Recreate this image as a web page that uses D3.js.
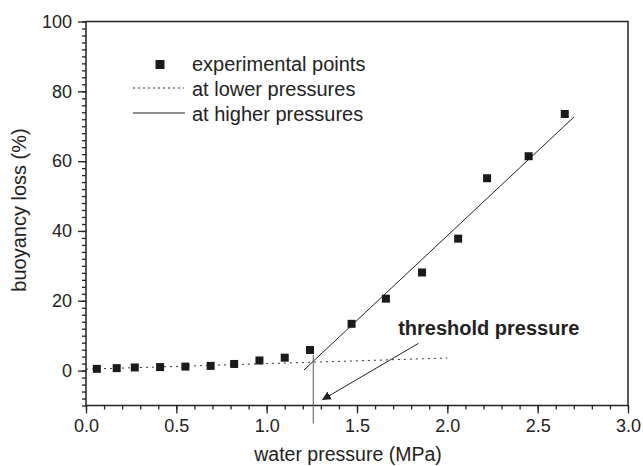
<!DOCTYPE html>
<html>
<head>
<meta charset="utf-8">
<script src="https://cdn.jsdelivr.net/npm/d3@7"></script>
<style>
  body { margin: 0; background: #fff; }
  svg { font-family: "Liberation Sans", Arial, sans-serif; }
</style>
</head>
<body>
<svg id="chart" width="643" height="466"></svg>
<script>
// data
var pressure = [0.06, 0.17, 0.27, 0.41, 0.55, 0.69, 0.82, 0.96, 1.10, 1.24, 1.47, 1.66, 1.86, 2.06, 2.22, 2.45, 2.65];
var loss = [0.5, 0.7, 0.9, 1.0, 1.15, 1.35, 1.9, 2.9, 3.7, 5.9, 13.4, 20.6, 28.1, 37.8, 55.1, 61.4, 73.5];
var lowerFit = [[0, 0.4], [2.0, 3.6]];
var higherFit = [[1.207, 0.2], [2.70, 72.6]];
var threshold = 1.258;
var xTicks = [0, 0.5, 1.0, 1.5, 2.0, 2.5, 3.0];
var yTicks = [0, 20, 40, 60, 80, 100];
var legendLabels = ["experimental points", "at lower pressures", "at higher pressures"];

var margin = {left: 86, top: 21.5, right: 15, bottom: 60.5};
var width = 643 - margin.left - margin.right;
var height = 466 - margin.top - margin.bottom;
var ink = "#222";

var xScale = d3.scaleLinear().domain([0, 3]).range([0, width]);
var yScale = d3.scaleLinear().domain([-10, 100]).range([height, 0]);

var svg = d3.select("#chart")
    .append("g")
    .attr("transform", "translate(" + margin.left + "," + margin.top + ")");

// minor ticks
svg.append("g")
    .attr("transform", "translate(0," + height + ")")
    .call(d3.axisBottom(xScale).tickValues(d3.range(0, 31).map(function (i) { return i / 10; })).tickSize(4).tickFormat(""))
    .call(function (g) { g.select(".domain").remove(); });
svg.append("g")
    .call(d3.axisLeft(yScale).tickValues(d3.range(-10, 101, 2)).tickSize(4).tickFormat(""))
    .call(function (g) { g.select(".domain").remove(); });

// major ticks with labels
var xAxis = svg.append("g")
    .attr("transform", "translate(0," + height + ")")
    .call(d3.axisBottom(xScale).tickValues(xTicks).tickSize(8).tickPadding(6).tickFormat(d3.format(".1f")));
xAxis.select(".domain").remove();
xAxis.selectAll("text").attr("font-size", 18).attr("fill", ink).attr("font-family", null);

var yAxis = svg.append("g")
    .call(d3.axisLeft(yScale).tickValues(yTicks).tickSize(8).tickPadding(6));
yAxis.select(".domain").remove();
yAxis.selectAll("text").attr("font-size", 18).attr("fill", ink).attr("font-family", null);

svg.selectAll(".tick line").attr("stroke", ink).attr("stroke-width", 1.3);

// frame
svg.append("rect")
    .attr("width", width)
    .attr("height", height)
    .attr("fill", "none")
    .attr("stroke", ink)
    .attr("stroke-width", 1.5);

var line = d3.line()
    .x(function (d) { return xScale(d[0]); })
    .y(function (d) { return yScale(d[1]); });

svg.append("path")
    .datum(lowerFit)
    .attr("d", line)
    .attr("fill", "none")
    .attr("stroke", "#333")
    .attr("stroke-width", 1)
    .attr("stroke-dasharray", "2,4");

svg.append("path")
    .datum(higherFit)
    .attr("d", line)
    .attr("fill", "none")
    .attr("stroke", "#222")
    .attr("stroke-width", 1);

// threshold marker
svg.append("line")
    .attr("x1", xScale(threshold)).attr("x2", xScale(threshold))
    .attr("y1", yScale(4.5)).attr("y2", height + 18)
    .attr("stroke", "#555")
    .attr("stroke-width", 1);

// points
svg.selectAll(".pt")
    .data(pressure)
    .enter().append("rect")
    .attr("class", "pt")
    .attr("x", function (d) { return xScale(d) - 4; })
    .attr("y", function (d, i) { return yScale(loss[i]) - 4; })
    .attr("width", 8)
    .attr("height", 8)
    .attr("fill", "#1a1a1a");

// annotation
d3.select("#chart").append("defs").append("marker")
    .attr("id", "head")
    .attr("viewBox", "0 0 10 10")
    .attr("refX", 9).attr("refY", 5)
    .attr("markerWidth", 9).attr("markerHeight", 9)
    .attr("markerUnits", "userSpaceOnUse")
    .attr("orient", "auto")
    .append("path")
    .attr("d", "M0,0L10,5L0,10Z")
    .attr("fill", "#222");

svg.append("line")
    .attr("x1", xScale(1.84)).attr("y1", yScale(7.8))
    .attr("x2", xScale(1.31)).attr("y2", yScale(-8.3))
    .attr("stroke", "#222")
    .attr("stroke-width", 1)
    .attr("marker-end", "url(#head)");

svg.append("text")
    .attr("x", xScale(1.728))
    .attr("y", yScale(10.1))
    .attr("font-size", 20)
    .attr("font-weight", "bold")
    .attr("fill", ink)
    .text("threshold pressure");

// legend
var leg = svg.append("g").attr("transform", "translate(" + (133 - margin.left) + "," + (64.5 - margin.top) + ")");
leg.append("rect").attr("x", 22.5).attr("y", -4.5).attr("width", 9).attr("height", 9).attr("fill", "#1a1a1a");
leg.append("line").attr("x1", 0).attr("x2", 51).attr("y1", 23.5).attr("y2", 23.5)
    .attr("stroke", "#333").attr("stroke-dasharray", "2,3");
leg.append("line").attr("x1", 0).attr("x2", 52).attr("y1", 48.5).attr("y2", 48.5)
    .attr("stroke", "#222");
leg.selectAll("text")
    .data(legendLabels)
    .enter().append("text")
    .attr("x", 59)
    .attr("y", function (d, i) { return 6 + i * 25; })
    .attr("font-size", 20)
    .attr("fill", ink)
    .text(function (d) { return d; });

// axis titles
svg.append("text")
    .attr("x", 348 - margin.left)
    .attr("y", 461 - margin.top)
    .attr("text-anchor", "middle")
    .attr("font-size", 19.5)
    .attr("fill", ink)
    .text("water pressure (MPa)");

svg.append("text")
    .attr("transform", "translate(" + (26 - margin.left) + "," + (210 - margin.top) + ") rotate(-90)")
    .attr("text-anchor", "middle")
    .attr("font-size", 20)
    .attr("fill", ink)
    .text("buoyancy loss (%)");
</script>
</body>
</html>
